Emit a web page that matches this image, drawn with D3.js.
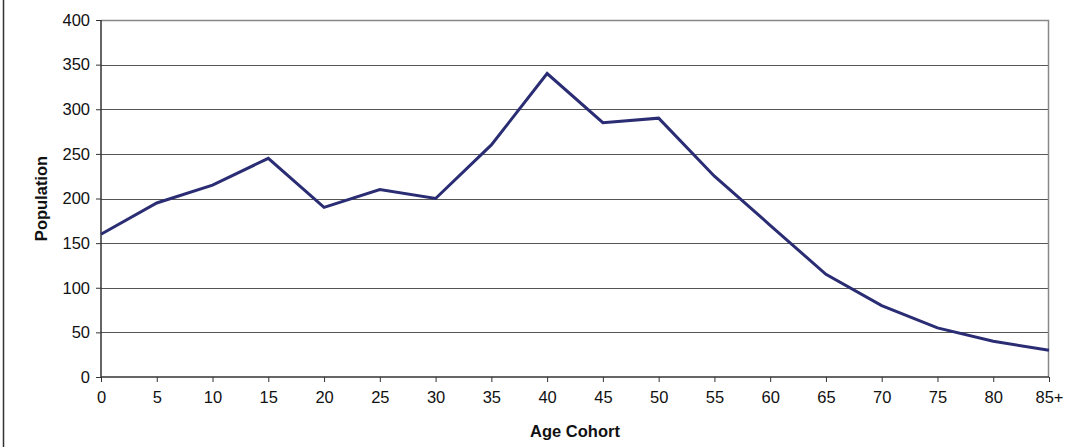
<!DOCTYPE html>
<html>
<head>
<meta charset="utf-8">
<script src="https://d3js.org/d3.v7.min.js"></script>
<style>
  body { margin: 0; background: #fff; font-family: "Liberation Sans", Arial, sans-serif; }
</style>
</head>
<body>
<script>
// Chart values
var ageCohorts = ["0","5","10","15","20","25","30","35","40","45","50","55","60","65","70","75","80","85+"];
var population = [160,195,215,245,190,210,200,260,340,285,290,225,170,115,80,55,40,30];
var yTicks = [0,50,100,150,200,250,300,350,400];

var W = 1085, H = 447;
var margin = {top: 20, right: 36, bottom: 70, left: 101};
var width = W - margin.left - margin.right,
    height = H - margin.top - margin.bottom;
var fontSize = 16.5;

var svg = d3.select("body").append("svg")
    .attr("width", W)
    .attr("height", H);

// outer chart border (left edge visible)
svg.append("line")
    .attr("x1", 3.5).attr("x2", 3.5)
    .attr("y1", 0).attr("y2", H)
    .attr("stroke", "#333").attr("stroke-width", 1.5);

var g = svg.append("g")
    .attr("transform", "translate(" + margin.left + "," + margin.top + ")");

var x = d3.scalePoint().domain(ageCohorts).range([0, width]);
var y = d3.scaleLinear().domain([0, 400]).range([height, 0]);

// gridlines
g.selectAll(".grid")
    .data(yTicks.filter(function(d) { return d > 0 && d < 400; }))
  .enter().append("line")
    .attr("x1", 0).attr("x2", width)
    .attr("y1", function(d) { return Math.round(y(d)) + 0.5; })
    .attr("y2", function(d) { return Math.round(y(d)) + 0.5; })
    .attr("stroke", "#555");

// plot border top/right
g.append("path")
    .attr("d", "M0," + (Math.round(y(400)) + 0.5) + "H" + (width - 0.5) + "V" + height)
    .attr("fill", "none")
    .attr("stroke", "#888")
    .attr("stroke-width", 1.5);

// axes
var yAxis = g.append("g")
    .call(d3.axisLeft(y).tickValues(yTicks).tickSize(5).tickPadding(6));
var xAxis = g.append("g")
    .attr("transform", "translate(0," + height + ")")
    .call(d3.axisBottom(x).tickSize(5).tickPadding(9));

[xAxis, yAxis].forEach(function(a) {
  a.attr("font-size", fontSize).attr("font-family", "'Liberation Sans', Arial, sans-serif");
  a.select(".domain").attr("stroke", "#333").attr("stroke-width", 1.5);
  a.selectAll(".tick line").attr("stroke", "#333");
  a.selectAll(".tick text").attr("fill", "#111");
});
yAxis.select(".domain").attr("d", "M0," + height + "V" + y(400));
xAxis.select(".domain").attr("d", "M0,0H" + width);

// line
var line = d3.line()
    .x(function(d, i) { return x(ageCohorts[i]); })
    .y(function(d) { return y(d); });

g.append("path")
    .datum(population)
    .attr("fill", "none")
    .attr("stroke", "#2b2d74")
    .attr("stroke-width", 3)
    .attr("stroke-linejoin", "miter")
    .attr("d", line);

// axis titles
svg.append("text")
    .attr("x", margin.left + width / 2)
    .attr("y", 437)
    .attr("text-anchor", "middle")
    .attr("font-size", fontSize).attr("font-weight", "bold").attr("fill", "#111")
    .text("Age Cohort");

svg.append("text")
    .attr("transform", "translate(47," + (margin.top + height / 2) + ") rotate(-90)")
    .attr("text-anchor", "middle")
    .attr("font-size", fontSize).attr("font-weight", "bold").attr("fill", "#111")
    .text("Population");
</script>
</body>
</html>
